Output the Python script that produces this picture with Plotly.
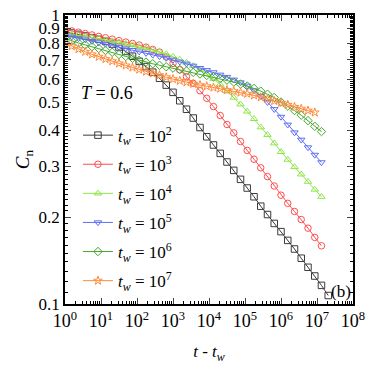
import plotly.graph_objects as go

# t - t_w sampling (16 points per 3 decades)
t_vals = [1, 1.54, 2.37, 3.65, 5.62, 8.66, 13.3, 20.5, 31.6, 48.7,
          75.0, 115, 178, 274, 422, 649, 1000, 1540, 2370, 3650,
          5620, 8660, 1.33e4, 2.05e4, 3.16e4, 4.87e4, 7.5e4, 1.15e5, 1.78e5, 2.74e5,
          4.22e5, 6.49e5, 1.0e6, 1.54e6, 2.37e6, 3.65e6, 5.62e6, 8.66e6, 1.33e7, 2.05e7]

c_tw2 = [0.875, 0.866, 0.857, 0.846, 0.835, 0.824, 0.810, 0.793, 0.775, 0.748,
         0.720, 0.691, 0.663, 0.634, 0.604, 0.572, 0.540, 0.505, 0.472, 0.440,
         0.408, 0.379, 0.355, 0.332, 0.310, 0.290, 0.270, 0.252, 0.235, 0.218,
         0.204, 0.190, 0.178, 0.166, 0.155, 0.144, 0.134, 0.125, 0.116, 0.107]
c_tw3 = [0.890, 0.881, 0.872, 0.862, 0.853, 0.843, 0.834, 0.825, 0.815, 0.806,
         0.797, 0.787, 0.774, 0.760, 0.744, 0.716, 0.680, 0.646, 0.612, 0.580,
         0.547, 0.515, 0.482, 0.449, 0.418, 0.391, 0.365, 0.340, 0.317, 0.296,
         0.276, 0.256, 0.238, 0.223, 0.209, 0.196, 0.183, 0.170, 0.159]
c_tw4 = [0.865, 0.858, 0.850, 0.843, 0.835, 0.828, 0.820, 0.813, 0.805, 0.796,
         0.787, 0.777, 0.767, 0.757, 0.746, 0.733, 0.717, 0.701, 0.684, 0.667,
         0.647, 0.625, 0.602, 0.576, 0.545, 0.518, 0.491, 0.464, 0.437, 0.409,
         0.385, 0.360, 0.336, 0.316, 0.298, 0.281, 0.265, 0.249, 0.235]
c_tw5 = [0.850, 0.841, 0.831, 0.822, 0.812, 0.803, 0.794, 0.784, 0.775, 0.766,
         0.756, 0.747, 0.738, 0.728, 0.719, 0.710, 0.700, 0.689, 0.678, 0.667,
         0.655, 0.644, 0.633, 0.621, 0.610, 0.597, 0.584, 0.569, 0.548, 0.524,
         0.499, 0.472, 0.444, 0.417, 0.392, 0.370, 0.348, 0.328, 0.309]
c_tw6 = [0.830, 0.814, 0.800, 0.788, 0.777, 0.766, 0.754, 0.743, 0.730, 0.719,
         0.708, 0.697, 0.687, 0.678, 0.670, 0.662, 0.655, 0.648, 0.640, 0.633,
         0.625, 0.618, 0.611, 0.603, 0.595, 0.586, 0.577, 0.568, 0.557, 0.545,
         0.532, 0.518, 0.500, 0.484, 0.467, 0.450, 0.431, 0.412, 0.395]
c_tw7 = [0.800, 0.780, 0.762, 0.746, 0.731, 0.717, 0.704, 0.692, 0.680, 0.669,
         0.658, 0.647, 0.637, 0.628, 0.619, 0.609, 0.600, 0.592, 0.585, 0.578,
         0.572, 0.567, 0.561, 0.556, 0.550, 0.545, 0.539, 0.534, 0.527, 0.519,
         0.512, 0.504, 0.496, 0.489, 0.481, 0.474, 0.467, 0.460]

tw_exps = ["2", "3", "4", "5", "6", "7"]
series = [c_tw2, c_tw3, c_tw4, c_tw5, c_tw6, c_tw7]
colors = ["#3a3a3a", "#ff4d4d", "#8ee64a", "#5d6ef7", "#45a82c", "#ff8a3c"]
symbols = ["square-open", "circle-open", "triangle-up-open",
           "triangle-down-open", "diamond-open", "star-open"]

y_major = [0.1, 0.2, 0.3, 0.4, 0.5, 0.6, 0.7, 0.8, 0.9, 1.0]
y_labels = ["0.1", "0.2", "0.3", "0.4", "0.5", "0.6", "0.7", "0.8", "0.9", "1"]
x_major = [10 ** n for n in range(9)]
x_labels = ["10<sup>%d</sup>" % n for n in range(9)]

FONT = "Liberation Serif"

fig = go.Figure()
for i in range(len(series)):
  vals = series[i]
  fig.add_trace(go.Scatter(
    x=t_vals[:len(vals)], y=vals,
    mode="lines+markers",
    name="<i>t</i><sub><i>w</i></sub> = 10<sup>" + tw_exps[i] + "</sup>",
    legendgroup="g" + str(i),
    line=dict(color=colors[i], width=1),
    marker=dict(symbol=symbols[i], size=6.5, color=colors[i], line=dict(width=1, color=colors[i]))
  ))

y_minor = [m / 100 for m in range(11, 100) if m % 10 != 0]
x_minor = [m * 10 ** n for n in range(8) for m in range(2, 10)]

fig.update_layout(
  width=382, height=371,
  margin=dict(l=65, r=29, t=15, b=67),
  paper_bgcolor="white", plot_bgcolor="white",
  font=dict(family=FONT, size=18, color="black"),
  showlegend=True,
  legend=dict(x=0.045, y=0.645, xanchor="left", yanchor="top",
              bgcolor="rgba(0,0,0,0)", font=dict(family=FONT, size=17),
              tracegroupgap=4),
  xaxis=dict(type="log", range=[0, 8], tickvals=x_major, ticktext=x_labels,
             ticks="inside", ticklen=6, tickwidth=1, showline=True, linewidth=1.5,
             linecolor="black", mirror="ticks", showgrid=False, zeroline=False,
             automargin=False, ticklabeloverflow="allow", tickfont=dict(family=FONT, size=18),
             minor=dict(tickvals=x_minor, ticks="inside", ticklen=3, tickcolor="black"),
             title=dict(text="<i>t</i> - <i>t</i><sub><i>w</i></sub>", font=dict(family=FONT, size=17), standoff=15)),
  yaxis=dict(type="log", range=[-1, 0], tickvals=y_major, ticktext=y_labels,
             ticks="inside", ticklen=6, tickwidth=1, showline=True, linewidth=1.5,
             linecolor="black", mirror="ticks", showgrid=False, zeroline=False,
             automargin=False, ticklabeloverflow="allow", tickfont=dict(family=FONT, size=17),
             minor=dict(tickvals=y_minor, ticks="inside", ticklen=3, tickcolor="black"),
             title=dict(text="<i>C</i><sub>n</sub>", font=dict(family=FONT, size=19), standoff=4)),
  annotations=[
    dict(text="<i>T</i> = 0.6", x=0.05, y=0.729, xref="paper", yref="paper",
         xanchor="left", yanchor="middle", showarrow=False, font=dict(family=FONT, size=18)),
    dict(text="(b)", x=0.958, y=0.042, xref="paper", yref="paper",
         xanchor="center", yanchor="middle", showarrow=False, font=dict(family=FONT, size=17)),
  ]
)

# drop the page's default body margin so the figure sits at the window's corner
fig.write_html("out.html", config={"displayModeBar": False},
               post_script="document.body.style.margin = '0';")
